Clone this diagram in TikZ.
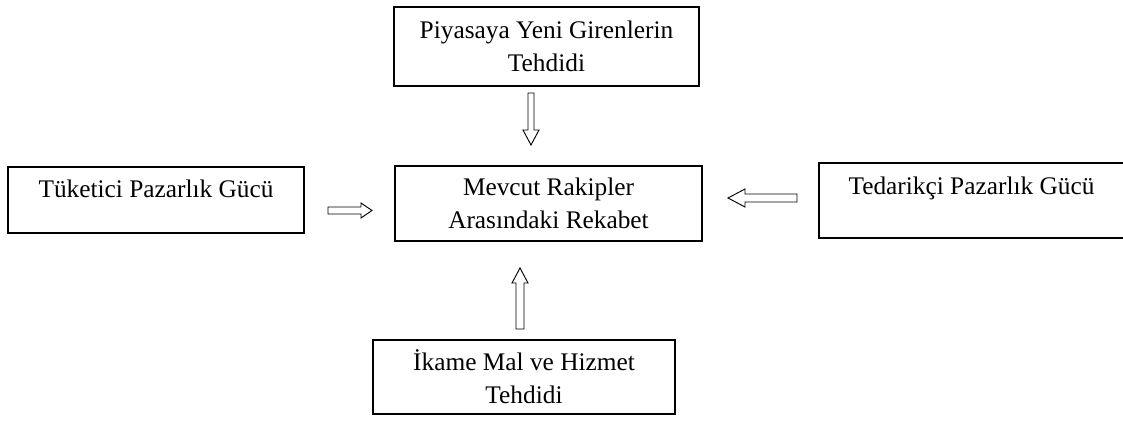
\documentclass[tikz,border=0pt]{standalone}
\usepackage{fontspec}
\setmainfont{Liberation Serif}
\begin{document}
\begin{tikzpicture}[x=0.75pt,y=-0.75pt,
  forcebox/.style={draw=black, line width=0.9pt, rectangle, inner sep=0pt, outer sep=0pt,
    align=center, font=\fontsize{19}{24.75}\selectfont},
  hollowarrow/.style={draw=black, line width=0.7pt, fill=white, line join=miter}]
\useasboundingbox (0,0) rectangle (1123,423);
\clip (0,0) rectangle (1123,423);

% the five forces
\node[forcebox, minimum width=228.75pt, minimum height=59.25pt] (entrants) at (546.5,46.5)
  {Piyasaya Yeni Girenlerin\\Tehdidi};
\node[forcebox, minimum width=230.25pt, minimum height=56.25pt] (rivalry) at (548.5,203.5)
  {Mevcut Rakipler\\Arasındaki Rekabet};
\node[forcebox, minimum width=222pt, minimum height=49.5pt, text height=13pt, text depth=16pt] (buyers) at (156,200)
  {Tüketici Pazarlık Gücü};
% this box runs past the right edge of the page
\node[forcebox, minimum width=240pt, minimum height=56.25pt, text height=13pt, text depth=21.25pt] (suppliers) at (979,200.5)
  {Tedarikçi Pazarlık Gücü\hspace*{11.25pt}};
\node[forcebox, minimum width=226.5pt, minimum height=55.5pt] (substitutes) at (524,377)
  {İkame Mal ve Hizmet\\Tehdidi};

% block arrows pointing at the central box
\draw[hollowarrow] (528,93) -- (534,93) -- (534,130) -- (539,130) -- (531,145)
  -- (523,130) -- (528,130) -- cycle;
\draw[hollowarrow] (328,207) -- (361,207) -- (361,203) -- (372,210.5) -- (361,218)
  -- (361,214) -- (328,214) -- cycle;
\draw[hollowarrow] (797,194) -- (745,194) -- (745,189) -- (728,198) -- (745,207)
  -- (745,202) -- (797,202) -- cycle;
\draw[hollowarrow] (516,329) -- (516,283) -- (512,283) -- (520,268) -- (528,283)
  -- (524,283) -- (524,329) -- cycle;
\end{tikzpicture}
\end{document}
